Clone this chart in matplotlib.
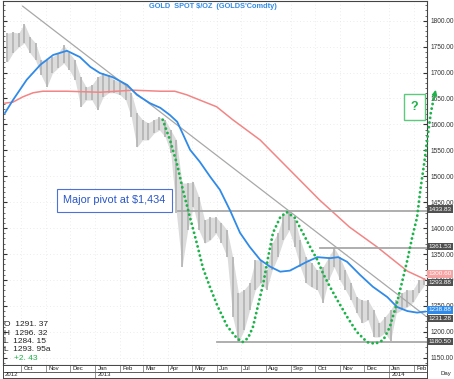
import numpy as np
import pandas as pd
import matplotlib
matplotlib.use("Agg")
from matplotlib import pyplot as plt

plt.rcParams["font.family"] = ["Liberation Sans", "DejaVu Sans"]

# x values are days since 2012-10-01
base = pd.Timestamp("2012-10-01")
weeks = pd.date_range("2012-09-14", periods=75, freq="7D")
week_days = np.array((weeks - base).days)

price_hi = [1776, 1778, 1776, 1794, 1769, 1757, 1724, 1724, 1730, 1738,
            1753, 1738, 1724, 1691, 1672, 1676, 1691, 1699, 1695, 1686,
            1682, 1676, 1661, 1622, 1609, 1603, 1609, 1614, 1609, 1589,
            1570, 1487, 1487, 1489, 1460, 1416, 1421, 1421, 1410, 1396,
            1344, 1275, 1281, 1294, 1339, 1339, 1319, 1371, 1391, 1425,
            1435, 1416, 1377, 1344, 1333, 1319, 1325, 1344, 1362, 1344,
            1319, 1294, 1267, 1261, 1261, 1242, 1217, 1229, 1242, 1261,
            1275, 1281, 1281, 1300, 1304]
price_lo = [1720, 1738, 1749, 1757, 1738, 1724, 1695, 1672, 1699, 1709,
            1718, 1705, 1686, 1634, 1647, 1647, 1628, 1653, 1661, 1661,
            1657, 1647, 1614, 1556, 1570, 1570, 1583, 1589, 1576, 1545,
            1429, 1325, 1396, 1441, 1396, 1371, 1377, 1390, 1371, 1344,
            1229, 1180, 1203, 1242, 1281, 1294, 1281, 1319, 1344, 1377,
            1396, 1363, 1325, 1294, 1286, 1281, 1256, 1300, 1325, 1300,
            1281, 1261, 1236, 1217, 1223, 1190, 1190, 1198, 1182, 1236,
            1242, 1248, 1257, 1275, 1290]

ma50_days = [-20, -10, 7, 24, 40, 57, 73, 86, 98, 114, 132, 144, 160, 173, 185,
             194, 200, 210, 222, 235, 247, 260, 272, 284, 297, 309, 322, 334,
             355, 368, 384, 394, 405, 421, 437, 455, 467, 480, 492, 502]
ma50_vals = [1622, 1647, 1686, 1715, 1734, 1742, 1730, 1711, 1699, 1691, 1676,
             1657, 1641, 1632, 1618, 1605, 1585, 1551, 1528, 1499, 1474, 1433,
             1391, 1364, 1339, 1326, 1316, 1318, 1335, 1344, 1342, 1344, 1335,
             1310, 1287, 1267, 1248, 1240, 1237, 1239]

ma200_days = [-20, -10, 2, 15, 27, 57, 98, 139, 173, 191, 206, 222, 243, 263,
              297, 334, 371, 408, 442, 467, 480, 502]
ma200_vals = [1641, 1643, 1653, 1661, 1664, 1664, 1662, 1666, 1664, 1664, 1657,
              1647, 1634, 1609, 1570, 1512, 1454, 1402, 1364, 1333, 1317, 1301]

trend_days = [2, 502]
trend_vals = [1828, 1231.28]

levels = [1433.83, 1361.53, 1180.50]
level_from = [195, 371, 243]

# projected double-bottom path (green dots)
path_days = [176, 185, 194, 201, 210, 219, 226, 235, 244, 256, 268, 275, 282,
             288, 294, 301, 307, 313, 322, 330, 340, 350, 359, 368, 375, 384,
             393, 405, 417, 430, 440, 450, 458, 467, 473, 480, 486, 492, 496,
             501, 504, 509, 513]
path_vals = [1609, 1570, 1522, 1474, 1420, 1367, 1323, 1285, 1250, 1211, 1188,
             1180, 1188, 1209, 1248, 1294, 1344, 1391, 1421, 1431, 1420, 1391,
             1364, 1339, 1313, 1286, 1261, 1229, 1200, 1180, 1177, 1184, 1209,
             1256, 1294, 1339, 1383, 1421, 1473, 1527, 1564, 1622, 1653]

tag_vals = [1433.83, 1361.53, 1300.60, 1293.88, 1238.88, 1231.28, 1180.50]
tag_colors = ["#505050", "#505050", "#f5a3a3", "#505050", "#2f8ae8", "#505050", "#505050"]
tag_shift = [3, 2.7, 11, 1.5, 3.5, -6, 0.5]

month_starts = pd.date_range("2012-10-01", "2014-02-01", freq="MS")
month_days = np.array((month_starts - base).days)

fig = plt.figure(figsize=(4.54, 3.79), dpi=100)
ax = fig.add_axes([3 / 454, 1 - 365 / 379, 424 / 454, 364 / 379])
ax.set_xlim(-22.4, 504.3)
ax.set_ylim(1136, 1838)

ax.fill_between(week_days, price_lo, price_hi, color="#dcdcdc", lw=0, zorder=2)
ax.vlines(week_days, price_lo, price_hi, color="#b2b2b2", lw=1.2, zorder=2)
ax.plot(ma200_days, ma200_vals, color="#f28585", lw=1.1, zorder=3)
ax.plot(ma50_days, ma50_vals, color="#2f8ae8", lw=1.3, zorder=4)
ax.plot(trend_days, trend_vals, color="#a8a8a8", lw=0.9, zorder=3)
for lv, start in zip(levels, level_from):
    ax.plot([start, 504.3], [lv, lv], color="#a8a8a8", lw=1.3, zorder=3)

ax.plot(path_days, path_vals, color="#1db34a", lw=2.1, ls=(0, (0.01, 1.6)),
        dash_capstyle="round", clip_on=False, zorder=6)
ax.annotate("", xy=(516, 1672), xytext=(512, 1645),
            arrowprops=dict(arrowstyle="-|>", color="#1db34a", lw=1.2,
                            mutation_scale=7), annotation_clip=False, zorder=6)

ax.yaxis.tick_right()
ax.set_yticks(np.arange(1150, 1801, 50))
ax.set_yticks(np.arange(1140, 1831, 10), minor=True)
ax.set_yticklabels([f"{v:.2f}" for v in np.arange(1150, 1801, 50)])
ax.tick_params(axis="y", which="major", labelsize=4.7, length=3, direction="in",
               left=True, right=True, pad=2.5, colors="#333333")
ax.tick_params(axis="y", which="minor", length=1.5, direction="in", left=True, right=True,
               colors="#555555")
ax.set_xticks(month_days)
ax.tick_params(axis="x", length=0, labelbottom=False)
ax.grid(True, color="#e6e6e6", ls=(0, (1, 3)), lw=0.6)
for s in ax.spines.values():
    s.set_color("#444444")
    s.set_linewidth(0.8)

for v, c, d in zip(tag_vals, tag_colors, tag_shift):
    ax.text(506, v + d, f"{v:.2f}", fontsize=4.6, color="white", va="center", ha="left",
            clip_on=False, zorder=8,
            bbox=dict(boxstyle="square,pad=0.2", fc=c, ec="none"))

ax.text(116, 1454, "Major pivot at $1,434", fontsize=7.8, color="#2a55c8", ha="center",
        va="center", zorder=7,
        bbox=dict(boxstyle="square,pad=0.6", fc="white", ec="#4a72d8", lw=0.8))
ax.text(489, 1633, "?", fontsize=9, color="#1db34a", fontweight="bold", ha="center",
        va="center", zorder=7,
        bbox=dict(boxstyle="square,pad=0.55", fc="white", ec="#5cc97c", lw=1.0))

fig.text(213 / 454, 1 - 6 / 379, "GOLD  SPOT $/OZ  (GOLDS'Comdty)", fontsize=5.3,
         color="#2f8ae8", ha="center", va="center", fontweight="bold")

ohlc = ["O  1291. 37", "H  1296. 32", "L  1284. 15", "L  1293. 95a"]
for i, t in enumerate(ohlc):
    fig.text(4 / 454, 1 - (325 + 8.2 * i) / 379, t, fontsize=6, color="#222222",
             va="center", ha="left")
fig.text(14 / 454, 1 - 358 / 379, "+2. 43", fontsize=6, color="#1db34a",
         va="center", ha="left")

# date band
axd = fig.add_axes([3 / 454, 1 / 379, 424 / 454, 13 / 379])
axd.set_xlim(ax.get_xlim())
axd.set_ylim(0, 2)
axd.set_xticks([])
axd.set_yticks([])
for s in axd.spines.values():
    s.set_color("#444444")
    s.set_linewidth(0.7)
axd.axhline(1, color="#444444", lw=0.6)
axd.vlines(month_days, 1, 2, color="#666666", lw=0.5)
for d, m in zip(month_days, month_starts):
    if d < 495:
        axd.text(d + 3, 1.5, m.strftime("%b"), fontsize=4.3, va="center", ha="left",
                 color="#222222")
    if m.month == 1:
        axd.vlines(d, 0, 1, color="#666666", lw=0.5)
        axd.text(d + 3, 0.5, str(m.year), fontsize=4.3, va="center", ha="left",
                 color="#222222")
axd.text(-20, 0.5, "2012", fontsize=4.3, va="center", ha="left", color="#222222")
fig.text(446 / 454, 1 - 373 / 379, "Day", fontsize=4.3, ha="center", va="center",
         color="#222222")

fig.savefig("out.png", dpi=100)
